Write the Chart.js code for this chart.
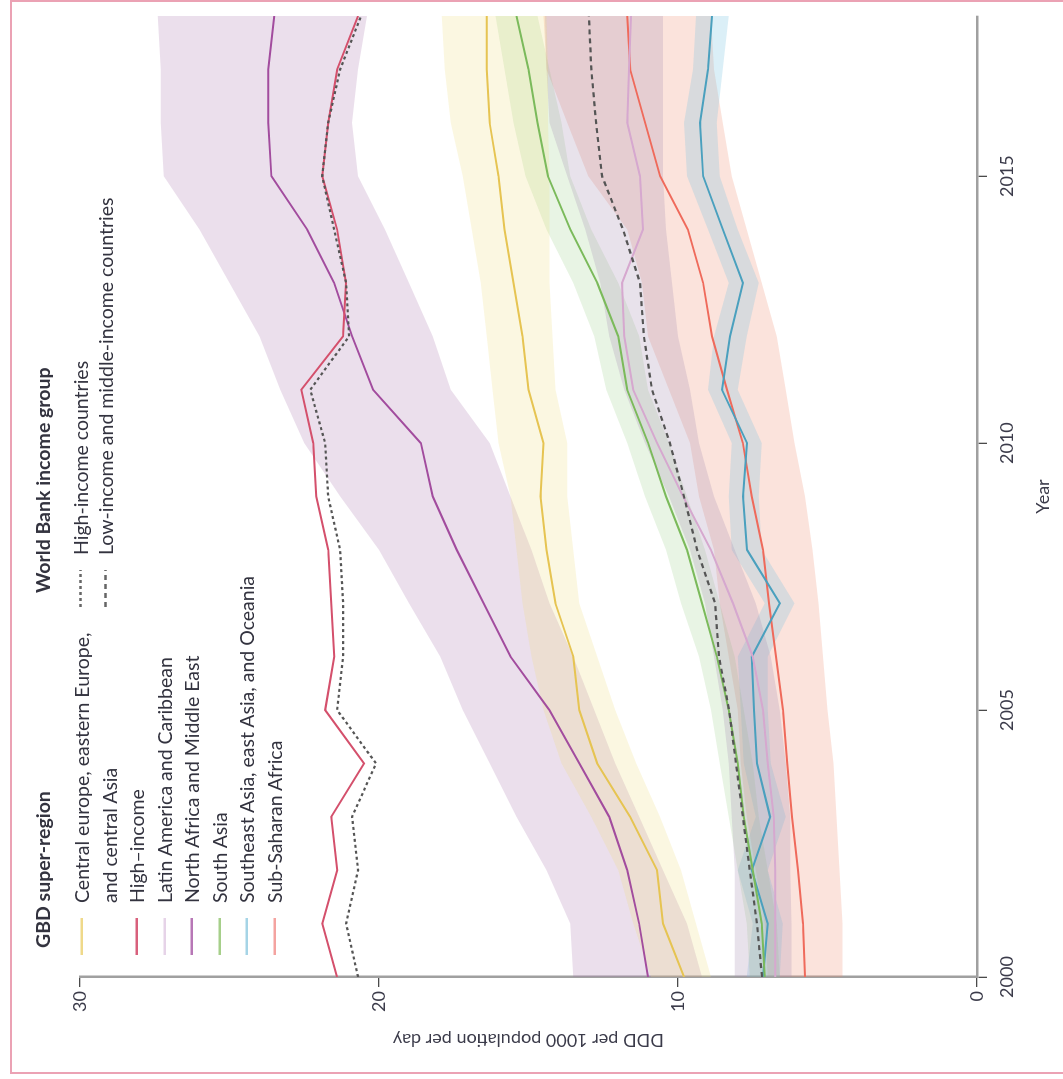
<!DOCTYPE html>
<html>
<head>
<meta charset="utf-8">
<script src="https://cdn.jsdelivr.net/npm/chart.js@4.4.1/dist/chart.umd.min.js"></script>
<style>
    html, body { margin: 0; padding: 0; background: #fff; }
    body { width: 1063px; height: 1079px; overflow: hidden; position: relative; font-family: Lato, sans-serif; }
    #frame { position: absolute; left: 10px; top: 0; width: 1100px; height: 1074px; box-sizing: border-box; border: 2px solid #eba2b4; }
    #rotated { position: absolute; left: -8px; top: 8px; width: 1079px; height: 1063px; transform: rotate(-90deg); transform-origin: 50% 50%; }
    #chart { position: absolute; left: 0; top: 0; }
    .legendTitle { position: absolute; font-weight: bold; font-size: 19.5px; line-height: 22px; color: #33333f; white-space: nowrap; }
    .legendBlock { position: absolute; font-size: 19.5px; color: #33333f; }
    .legendRow { display: flex; align-items: flex-start; white-space: nowrap; }
    .legendMark { flex: none; margin-right: 15px; }
    .legendMark svg { display: block; }
</style>
</head>
<body>
<div id="frame"></div>
<div id="rotated">
    <canvas id="chart" width="1079" height="1063"></canvas>
</div>
<script>
const years = [2000, 2001, 2002, 2003, 2004, 2005, 2006, 2007, 2008, 2009, 2010, 2011, 2012, 2013, 2014, 2015, 2016, 2017, 2018];
const yearTicks = [2000, 2005, 2010, 2015];
const dddTicks = [0, 10, 20, 30];

// GBD super-regions (DDD per 1000 population per day)
const centralEurope = [9.8, 10.5, 10.7, 11.6, 12.7, 13.3, 13.5, 14.1, 14.4, 14.6, 14.5, 15.0, 15.2, 15.5, 15.8, 16.0, 16.3, 16.4, 16.4];
const centralEuropeHigh = [10.9, 11.5, 12.0, 12.9, 13.9, 14.5, 14.9, 15.2, 15.4, 15.6, 16.0, 16.2, 16.4, 16.6, 16.9, 17.2, 17.6, 17.8, 17.9];
const centralEuropeLow = [8.9, 9.4, 9.9, 10.6, 11.4, 12.1, 12.7, 13.3, 13.5, 13.7, 13.7, 14.1, 14.2, 14.3, 14.3, 14.3, 14.35, 14.35, 14.4];

const highIncome = [21.4, 21.9, 21.4, 21.6, 20.5, 21.8, 21.5, 21.6, 21.7, 22.1, 22.2, 22.6, 21.2, 21.1, 21.4, 21.9, 21.7, 21.4, 20.7];

const latinAmerica = [6.75, 6.75, 6.75, 6.8, 7.0, 7.16, 7.5, 8.16, 8.9, 9.83, 10.7, 11.5, 11.8, 11.87, 11.17, 11.27, 11.7, 11.64, 11.57];
const latinAmericaHigh = [8.1, 8.1, 8.1, 8.2, 8.3, 8.5, 8.8, 9.1, 9.6, 10.3, 11.1, 11.8, 12.3, 12.6, 13.1, 13.7, 14.3, 14.4, 14.45];
const latinAmericaLow = [6.2, 6.2, 6.25, 6.25, 6.4, 6.6, 6.9, 7.4, 8.1, 8.8, 9.3, 9.6, 10.0, 10.2, 10.4, 10.5, 10.5, 10.5, 10.5];

const northAfrica = [11.0, 11.3, 11.7, 12.3, 13.3, 14.3, 15.6, 16.5, 17.4, 18.2, 18.6, 20.2, 20.9, 21.5, 22.4, 23.6, 23.7, 23.7, 23.5];
const northAfricaHigh = [13.5, 13.6, 14.4, 15.4, 16.3, 17.2, 17.95, 19.0, 20.0, 21.3, 22.5, 23.3, 24.0, 25.0, 26.0, 27.2, 27.3, 27.3, 27.4];
const northAfricaLow = [9.2, 9.7, 10.5, 11.3, 12.1, 12.8, 13.5, 14.3, 14.9, 15.6, 16.3, 17.6, 18.2, 19.0, 19.8, 20.7, 20.9, 20.7, 20.4];

const southAsia = [7.1, 7.2, 7.5, 7.8, 8.0, 8.3, 8.7, 9.2, 9.7, 10.4, 11.0, 11.7, 12.0, 12.7, 13.6, 14.35, 14.7, 15.0, 15.4];
const southAsiaHigh = [7.6, 7.7, 8.0, 8.3, 8.6, 8.9, 9.3, 9.9, 10.4, 11.1, 11.7, 12.4, 12.8, 13.5, 14.4, 15.1, 15.5, 15.8, 16.1];
const southAsiaLow = [6.6, 6.7, 7.0, 7.3, 7.5, 7.8, 8.1, 8.6, 9.1, 9.7, 10.3, 11.0, 11.3, 12.0, 12.9, 13.6, 13.9, 14.3, 14.7];

const southeastAsia = [7.16, 7.0, 7.53, 6.92, 7.36, 7.46, 7.53, 6.59, 7.69, 7.83, 7.69, 8.53, 8.26, 7.83, 8.5, 9.16, 9.26, 9.0, 8.86];
const southeastAsiaHigh = [7.7, 7.5, 8.0, 7.4, 7.8, 7.9, 8.0, 7.1, 8.2, 8.3, 8.2, 9.0, 8.8, 8.3, 9.0, 9.7, 9.8, 9.5, 9.4];
const southeastAsiaLow = [6.6, 6.5, 7.0, 6.4, 6.9, 7.0, 7.0, 6.1, 7.2, 7.3, 7.2, 8.0, 7.7, 7.3, 8.0, 8.6, 8.7, 8.5, 8.3];

const subSaharan = [5.75, 5.82, 5.99, 6.19, 6.35, 6.49, 6.72, 6.96, 7.16, 7.53, 7.83, 8.36, 8.86, 9.16, 9.67, 10.6, 11.1, 11.6, 11.7];
const subSaharanHigh = [7.0, 7.1, 7.4, 7.7, 7.9, 8.0, 8.3, 8.6, 8.8, 9.3, 9.6, 10.3, 11.0, 11.2, 11.7, 13.0, 13.7, 14.4, 14.5];
const subSaharanLow = [4.5, 4.5, 4.6, 4.7, 4.8, 5.0, 5.15, 5.3, 5.5, 5.75, 6.1, 6.4, 6.7, 7.2, 7.7, 8.2, 8.5, 8.8, 8.9];

// World Bank income groups
const highIncomeCountries = [20.7, 21.1, 20.7, 20.9, 20.1, 21.4, 21.2, 21.2, 21.3, 21.7, 21.8, 22.3, 21.0, 21.1, 21.5, 21.9, 21.7, 21.3, 20.6];
const lowMiddleIncome = [7.19, 7.36, 7.6, 7.83, 8.06, 8.29, 8.63, 8.76, 9.36, 9.8, 10.27, 10.87, 11.14, 11.27, 11.84, 12.54, 12.74, 12.9, 12.98];

const regionNames = [
    ['Central europe, eastern Europe,', 'and central Asia'],
    ['High–income'],
    ['Latin America and Caribbean'],
    ['North Africa and Middle East'],
    ['South Asia'],
    ['Southeast Asia, east Asia, and Oceania'],
    ['Sub-Saharan Africa']
];
const incomeNames = ['High-income countries', 'Low-income and middle-income countries'];

const regionLines = [centralEurope, highIncome, latinAmerica, northAfrica, southAsia, southeastAsia, subSaharan];
const regionBands = [
    [centralEuropeHigh, centralEuropeLow],
    null,
    [latinAmericaHigh, latinAmericaLow],
    [northAfricaHigh, northAfricaLow],
    [southAsiaHigh, southAsiaLow],
    [southeastAsiaHigh, southeastAsiaLow],
    [subSaharanHigh, subSaharanLow]
];

const lineColors = ['#e6c452', '#d4506c', '#d6a8cf', '#a24c9e', '#7bba5b', '#4aa0be', '#ef6a5b'];
const markColors = ['#efd98a', '#d8607c', '#e6d3e8', '#b777b6', '#a6cf8a', '#a5d4e6', '#f4a3a0'];
const bandColors = [
    'rgba(235,220,120,0.22)',
    null,
    'rgba(165,140,175,0.25)',
    'rgba(165,110,170,0.22)',
    'rgba(140,200,120,0.2)',
    'rgba(110,190,225,0.25)',
    'rgba(240,140,110,0.24)'
];
const dashColor = '#555';
const incomeDashes = [[3, 3], [5, 4]];

const textColor = '#3b3b4a';
const font = { family: 'Lato', size: 18 };

function points(values) {
    return values.map((v, i) => ({ x: years[i], y: v }));
}

function buildDatasets() {
    let datasets = [];

    regionBands.forEach((band, i) => {
        if (band == null) return;
        datasets.push({
            data: points(band[0]),
            fill: '+1',
            backgroundColor: bandColors[i],
            borderWidth: 0,
            pointRadius: 0,
            order: 10
        });
        datasets.push({
            data: points(band[1]),
            fill: false,
            borderWidth: 0,
            pointRadius: 0,
            order: 10
        });
    });

    regionLines.forEach((values, i) => {
        datasets.push({
            label: regionNames[i].join(' '),
            data: points(values),
            borderColor: lineColors[i],
            borderWidth: 2,
            pointRadius: 0,
            fill: false,
            order: 1
        });
    });

    [highIncomeCountries, lowMiddleIncome].forEach((values, i) => {
        datasets.push({
            label: incomeNames[i],
            data: points(values),
            borderColor: dashColor,
            borderDash: incomeDashes[i],
            borderWidth: 2.2,
            pointRadius: 0,
            fill: false,
            order: 0
        });
    });

    return datasets;
}

function markSvg(color, dash, rowHeight) {
    const mid = rowHeight / 2;
    const dashAttr = dash ? ` stroke-dasharray="${dash.join(' ')}"` : '';
    return `<svg width="37" height="${rowHeight}"><line x1="0" y1="${mid}" x2="37" y2="${mid}" stroke="${color}" stroke-width="2.5"${dashAttr}/></svg>`;
}

function buildLegend() {
    const wrap = document.getElementById('rotated');

    const gbdTitle = document.createElement('div');
    gbdTitle.className = 'legendTitle';
    gbdTitle.style.left = '131px';
    gbdTitle.style.top = '32px';
    gbdTitle.textContent = 'GBD super-region';
    wrap.appendChild(gbdTitle);

    const gbd = document.createElement('div');
    gbd.className = 'legendBlock';
    gbd.style.left = '124px';
    gbd.style.top = '68px';
    regionNames.forEach((lines, i) => {
        const row = document.createElement('div');
        row.className = 'legendRow';
        row.innerHTML = `<span class="legendMark">${markSvg(markColors[i], null, 27.5)}</span>` +
            `<span style="line-height:27.5px">${lines.join('<br>')}</span>`;
        gbd.appendChild(row);
    });
    wrap.appendChild(gbd);

    const wbTitle = document.createElement('div');
    wbTitle.className = 'legendTitle';
    wbTitle.style.left = '486px';
    wbTitle.style.top = '32px';
    wbTitle.textContent = 'World Bank income group';
    wrap.appendChild(wbTitle);

    const wb = document.createElement('div');
    wb.className = 'legendBlock';
    wb.style.left = '472px';
    wb.style.top = '67.5px';
    incomeNames.forEach((name, i) => {
        const row = document.createElement('div');
        row.className = 'legendRow';
        row.innerHTML = `<span class="legendMark">${markSvg('#666', incomeDashes[i], 25)}</span>` +
            `<span style="line-height:25px">${name}</span>`;
        wb.appendChild(row);
    });
    wrap.appendChild(wb);
}

function main() {
    new Chart(document.getElementById('chart'), {
        type: 'line',
        data: { datasets: buildDatasets() },
        options: {
            responsive: false,
            animation: false,
            devicePixelRatio: 1,
            layout: { padding: { top: 80, right: 16, left: 0, bottom: 0 } },
            plugins: { legend: { display: false }, tooltip: { enabled: false } },
            scales: {
                x: {
                    type: 'linear',
                    min: 2000,
                    max: 2018,
                    afterBuildTicks: (scale) => { scale.ticks = yearTicks.map((v) => ({ value: v })); },
                    afterFit: (scale) => { scale.height = 86; },
                    ticks: { callback: (v) => String(v), font: font, color: textColor, padding: 9, maxRotation: 0, autoSkip: false },
                    grid: { drawOnChartArea: false, tickLength: 10, color: '#4a4a4a', lineWidth: 1.3 },
                    border: { color: '#a0a0a0', width: 2.5 },
                    title: { display: true, text: 'Year', font: font, color: textColor, padding: { top: 0, bottom: 9 } }
                },
                y: {
                    type: 'linear',
                    min: 0,
                    max: 30,
                    afterBuildTicks: (scale) => { scale.ticks = dddTicks.map((v) => ({ value: v })); },
                    afterFit: (scale) => { scale.width = 102; },
                    ticks: { callback: (v) => String(v), font: font, color: textColor, padding: 4 },
                    grid: { drawOnChartArea: false, tickLength: 10, color: '#4a4a4a', lineWidth: 1.3 },
                    border: { color: '#a0a0a0', width: 2.5 },
                    title: { display: true, text: 'DDD per 1000 population per day', font: font, color: textColor, padding: { top: 28, bottom: 0 } }
                }
            }
        }
    });

    buildLegend();
}

window.onload = main;
</script>
</body>
</html>
